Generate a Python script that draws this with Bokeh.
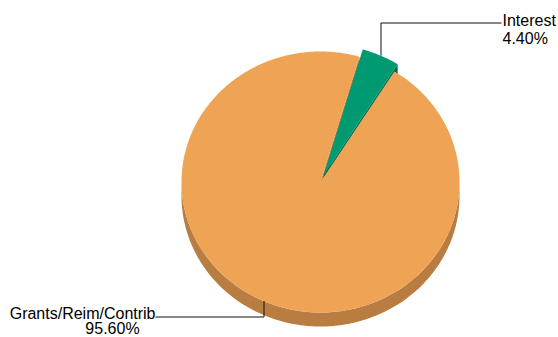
import numpy as np
from bokeh.plotting import figure
from bokeh.models import Range1d
from bokeh.embed import file_html
from bokeh.resources import INLINE
from bokeh.core.properties import value

# ---- data ----
categories = ["Grants/Reim/Contrib", "Interest"]
values = [95.60, 4.40]
pct_labels = [f"{v:.2f}%" for v in values]

# ---- style / layout ----
top_colors = ["#EEA454", "#009A72"]
side_colors = ["#BA7D41", "#00694E"]
explode = [0.0, 8.0]
W, H = 558, 337
cx, cy, rx, ry, depth = 320.0, 181.5, 139.0, 130.5, 14.0
start_angle = 32.1  # degrees clockwise from top
FONT = "Liberation Sans"
FS = "16px"

p = figure(width=W, height=H, output_backend="svg", toolbar_location=None,
           x_range=Range1d(0, W), y_range=Range1d(H, 0), min_border=0)
p.axis.visible = False
p.grid.visible = False
p.outline_line_color = None
p.background_fill_color = "white"


def pt(theta, ox=0.0, oy=0.0, dd=0.0):
    t = np.radians(theta)
    return cx + ox + rx * np.sin(t), cy + oy + dd - ry * np.cos(t)


total = sum(values)
slices = []
a = start_angle
for i, v in enumerate(values):
    span = 360.0 * v / total
    a0, a1 = a, a + span
    mid = (a0 + a1) / 2
    m = np.radians(mid)
    ox, oy = explode[i] * np.sin(m), -explode[i] * np.cos(m)
    slices.append((a0, a1, mid, ox, oy))
    a = a1

# side rims (front visible part)
for i, (a0, a1, mid, ox, oy) in enumerate(slices):
    lo, hi = max(a0, 90.0), min(a1, 270.0)
    if hi > lo:
        th = np.linspace(lo, hi, 120)
        xt, yt = pt(th, ox, oy)
        xb, yb = pt(th[::-1], ox, oy, depth)
        p.patch(list(xt) + list(xb), list(yt) + list(yb),
                fill_color=side_colors[i], line_color=None)

# radial faces (visible ones), drawn before tops
for i, (a0, a1, mid, ox, oy) in enumerate(slices):
    c = (cx + ox, cy + oy)
    for ang, sign in ((a0, -1), (a1, 1)):
        normal = ang + 90 * sign
        if np.cos(np.radians(normal)) < 0:  # faces downward on screen -> visible
            ex, ey = pt(ang, ox, oy)
            xs = [c[0], ex, ex, c[0]]
            ys = [c[1], ey, ey + depth, c[1] + depth]
            p.patch(xs, ys, fill_color=side_colors[i], line_color=None)

# tops
for i, (a0, a1, mid, ox, oy) in enumerate(slices):
    th = np.linspace(a0, a1, max(20, int((a1 - a0) * 2)))
    xs, ys = pt(th, ox, oy)
    p.patch([cx + ox] + list(xs), [cy + oy] + list(ys),
            fill_color=top_colors[i], line_color=None)

# leader lines and labels
label_layout = [
    # (elbow y, end x, align)
    (316.5, 155.0, "right"),
    (22.5, 501.0, "left"),
]
for i, (a0, a1, mid, ox, oy) in enumerate(slices):
    axp, ayp = pt(mid, ox, oy)
    axp = round(axp) + 0.5
    ey, endx, align = label_layout[i]
    p.line([axp, axp, endx], [ayp, ey, ey], line_color="#111111", line_width=1)

    if align == "left":
        p.text(x=[endx + 1], y=[ey - 3], text=[categories[i]], text_font=value(FONT),
               text_font_size=FS, text_align="left", text_baseline="alphabetic",
               text_color="black")
        p.text(x=[endx + 1], y=[ey + 15.2], text=[pct_labels[i]], text_font=value(FONT),
               text_font_size=FS, text_align="left", text_baseline="alphabetic",
               text_color="black")
    else:
        p.text(x=[endx], y=[ey - 3.2], text=[categories[i]], text_font=value(FONT),
               text_font_size=FS, text_align="right", text_baseline="alphabetic",
               text_color="black")
        p.text(x=[endx - 43], y=[ey + 11.8], text=[pct_labels[i]], text_font=value(FONT),
               text_font_size=FS, text_align="center", text_baseline="alphabetic",
               text_color="black")

open("out.html", "w").write(file_html(p, INLINE))
